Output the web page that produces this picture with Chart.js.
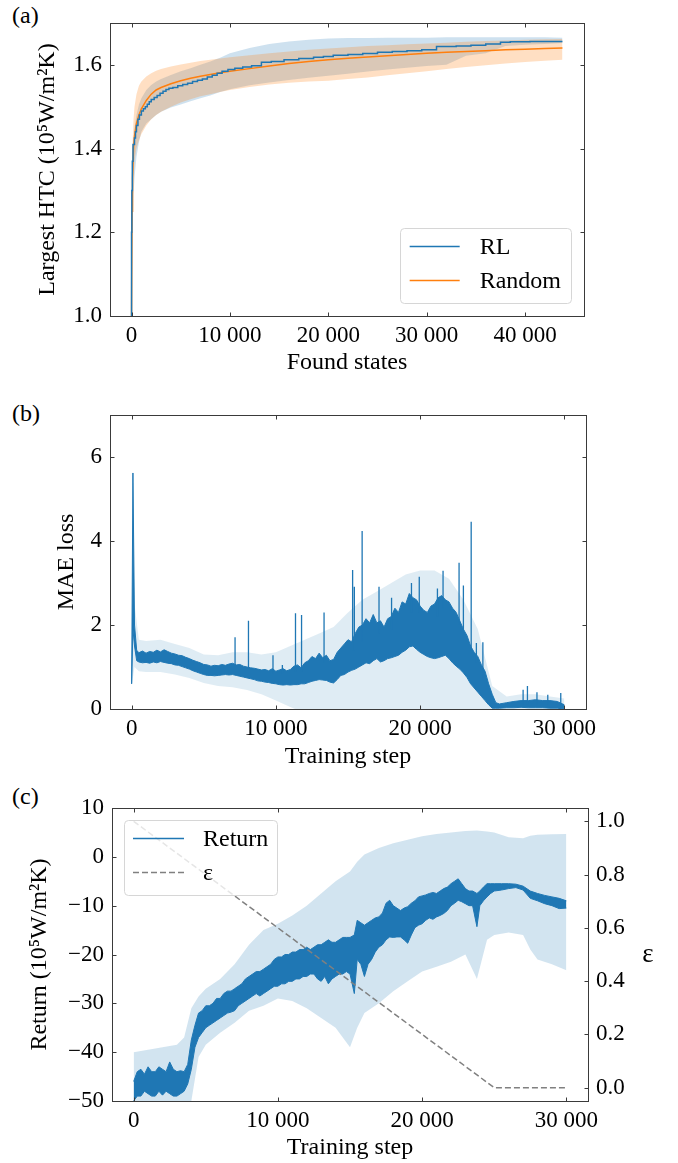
<!DOCTYPE html>
<html><head><meta charset="utf-8">
<script src="https://cdn.jsdelivr.net/npm/chart.js@4.4.1/dist/chart.umd.min.js"></script>
<style>
html,body{margin:0;padding:0;background:#fff;}
body{width:678px;height:1163px;position:relative;overflow:hidden;font-family:'Liberation Serif','Times New Roman',serif;}
.panel{position:absolute;left:0;width:678px;}
.lab{position:absolute;font-size:24px;line-height:24px;color:#000;}
canvas{display:block;}
</style></head><body>
<div class="lab" style="left:12px;top:3px">(a)</div>
<div class="lab" style="left:12px;top:401px">(b)</div>
<div class="lab" style="left:12px;top:784px">(c)</div>
<div class="panel" style="top:0;height:380px"><canvas id="ca" width="678" height="380"></canvas></div>
<div class="panel" style="top:380px;height:400px"><canvas id="cb" width="678" height="400"></canvas></div>
<div class="panel" style="top:780px;height:383px"><canvas id="cc" width="678" height="383"></canvas></div>
<script>
// ---------------- DATA: panel (a) ----------------
const stepA = [0, 50, 100, 200, 300, 500, 750, 1000, 1500, 2000, 2500, 3000, 4000, 5000, 6000, 7000, 8000, 9000, 10000, 12000, 14000, 16000, 18000, 20000, 22000, 24000, 26000, 28000, 30000, 32000, 34000, 36000, 38000, 40000, 42000, 43800];
const randomHTC = [1.000, 1.250, 1.330, 1.400, 1.430, 1.460, 1.480, 1.495, 1.515, 1.530, 1.540, 1.546, 1.555, 1.562, 1.568, 1.573, 1.577, 1.581, 1.585, 1.591, 1.597, 1.603, 1.608, 1.612, 1.616, 1.619, 1.622, 1.625, 1.628, 1.630, 1.632, 1.634, 1.636, 1.637, 1.639, 1.640];
const randomUpper = [1.000, 1.330, 1.410, 1.470, 1.500, 1.530, 1.550, 1.560, 1.572, 1.580, 1.586, 1.590, 1.596, 1.601, 1.605, 1.609, 1.612, 1.615, 1.618, 1.623, 1.628, 1.632, 1.636, 1.639, 1.642, 1.645, 1.647, 1.649, 1.651, 1.653, 1.655, 1.657, 1.658, 1.660, 1.661, 1.662];
const randomLower = [1.000, 1.170, 1.250, 1.330, 1.370, 1.400, 1.420, 1.435, 1.455, 1.470, 1.480, 1.488, 1.500, 1.510, 1.518, 1.525, 1.530, 1.535, 1.540, 1.547, 1.553, 1.557, 1.560, 1.562, 1.566, 1.570, 1.575, 1.580, 1.585, 1.590, 1.595, 1.599, 1.603, 1.607, 1.610, 1.612];
const rlUpper = [1.000, 1.250, 1.330, 1.410, 1.450, 1.480, 1.505, 1.520, 1.540, 1.552, 1.560, 1.566, 1.576, 1.585, 1.592, 1.600, 1.608, 1.617, 1.628, 1.640, 1.650, 1.656, 1.660, 1.663, 1.664, 1.664, 1.665, 1.665, 1.665, 1.666, 1.666, 1.666, 1.666, 1.666, 1.666, 1.665];
const rlLower = [1.000, 1.100, 1.200, 1.290, 1.330, 1.380, 1.415, 1.440, 1.460, 1.470, 1.480, 1.488, 1.498, 1.505, 1.513, 1.520, 1.527, 1.535, 1.542, 1.551, 1.558, 1.564, 1.569, 1.574, 1.579, 1.584, 1.589, 1.593, 1.597, 1.600, 1.622, 1.628, 1.645, 1.648, 1.650, 1.652];
const rlStep = [0, 30, 80, 150, 300, 400, 500, 650, 800, 1000, 1200, 1400, 1600, 1800, 2000, 2300, 2600, 2900, 3200, 3500, 3800, 4200, 4700, 5200, 5700, 6200, 6700, 7200, 7700, 8200, 8700, 9200, 9800, 10500, 11300, 12200, 13200, 14200, 15500, 17000, 18500, 19500, 20500, 22000, 23500, 25000, 26500, 28000, 29500, 31000, 33000, 34500, 36000, 37500, 38500, 40500, 42000, 43800];
const rlHTC = [1.000, 1.200, 1.300, 1.370, 1.410, 1.425, 1.440, 1.455, 1.470, 1.480, 1.490, 1.495, 1.500, 1.506, 1.512, 1.517, 1.522, 1.527, 1.532, 1.537, 1.541, 1.544, 1.546, 1.550, 1.553, 1.556, 1.560, 1.563, 1.566, 1.571, 1.575, 1.580, 1.585, 1.589, 1.592, 1.595, 1.598, 1.606, 1.608, 1.612, 1.615, 1.618, 1.620, 1.623, 1.625, 1.627, 1.630, 1.632, 1.634, 1.636, 1.644, 1.645, 1.647, 1.650, 1.654, 1.655, 1.656, 1.656];
const xTicksA = [0, 10000, 20000, 30000, 40000];
const yTicksA = [1.0, 1.2, 1.4, 1.6];

// ---------------- DATA: panel (b) ----------------
const stepB = [0, 90, 200, 350, 500, 750, 1000, 1250, 1500, 1750,
  2000, 2250, 2500, 2750, 3000, 3250, 3500, 3750, 4000, 4250,
  4500, 4750, 5000, 5250, 5500, 5750, 6000, 6250, 6500, 6750,
  7000, 7250, 7500, 7750, 8000, 8250, 8500, 8750, 9000, 9250,
  9500, 9750, 10000, 10250, 10500, 10750, 11000, 11250, 11500, 11750,
  12000, 12250, 12500, 12750, 13000, 13250, 13500, 13750, 14000, 14250,
  14500, 14750, 15000, 15250, 15500, 15750, 16000, 16250, 16500, 16750,
  17000, 17250, 17500, 17750, 18000, 18250, 18500, 18750, 19000, 19250,
  19500, 19750, 20000, 20250, 20500, 20750, 21000, 21250, 21500, 21750,
  22000, 22250, 22500, 22750, 23000, 23250, 23500, 23750, 24000, 24250,
  24500, 24750, 25000, 25250, 25500, 26000, 26500, 27000, 27500, 28000,
  28500, 29000, 29500, 30000];
const lossLo = [0.60, 1.90, 1.50, 1.15, 1.12, 1.10, 1.11, 1.09, 1.12, 1.10,
  1.13, 1.11, 1.09, 1.08, 1.05, 1.04, 1.01, 0.98, 0.95, 0.91,
  0.88, 0.85, 0.82, 0.80, 0.80, 0.79, 0.80, 0.81, 0.82, 0.81,
  0.82, 0.80, 0.78, 0.76, 0.74, 0.72, 0.70, 0.67, 0.66, 0.64,
  0.63, 0.61, 0.60, 0.58, 0.57, 0.58, 0.57, 0.58, 0.58, 0.60,
  0.60, 0.63, 0.66, 0.68, 0.70, 0.69, 0.68, 0.64, 0.62, 0.70,
  0.80, 0.82, 0.88, 0.92, 0.95, 1.00, 1.05, 1.10, 1.08, 1.15,
  1.20, 1.12, 1.15, 1.20, 1.22, 1.25, 1.28, 1.35, 1.40, 1.48,
  1.50, 1.42, 1.35, 1.30, 1.25, 1.22, 1.20, 1.22, 1.25, 1.28,
  1.20, 1.10, 1.02, 0.95, 0.86, 0.75, 0.60, 0.50, 0.40, 0.30,
  0.20, 0.10, 0.02, 0.02, 0.02, 0.03, 0.03, 0.04, 0.03, 0.03,
  0.03, 0.02, 0.02, 0.00];
const lossHi = [0.60, 5.62, 2.00, 1.40, 1.34, 1.38, 1.33, 1.37, 1.35, 1.40,
  1.36, 1.41, 1.37, 1.33, 1.31, 1.28, 1.27, 1.23, 1.20, 1.16,
  1.13, 1.10, 1.06, 1.05, 1.02, 1.04, 1.03, 1.06, 1.04, 1.07,
  1.09, 1.05, 1.06, 1.02, 1.00, 0.98, 0.97, 0.95, 0.93, 0.94,
  0.91, 0.96, 0.90, 0.93, 0.96, 0.91, 0.94, 1.02, 1.05, 0.98,
  1.10, 1.15, 1.25, 1.20, 1.33, 1.22, 1.28, 1.15, 1.18, 1.35,
  1.45, 1.55, 1.65, 1.60, 1.80, 1.95, 2.00, 2.15, 2.05, 2.25,
  2.05, 2.10, 1.95, 2.15, 2.20, 2.40, 2.30, 2.55, 2.50, 2.75,
  2.65, 2.60, 2.45, 2.35, 2.30, 2.45, 2.50, 2.65, 2.70, 2.60,
  2.55, 2.40, 2.30, 2.10, 1.90, 1.75, 1.50, 1.35, 1.25, 1.05,
  0.90, 0.60, 0.35, 0.15, 0.12, 0.15, 0.18, 0.20, 0.20, 0.22,
  0.20, 0.20, 0.18, 0.10];
const spikeStepB = [7170, 8100, 9800, 10450, 11360, 11780, 13340, 15320, 15440, 15980, 17150, 18020, 19400, 19940, 21200, 21590, 22700, 23000, 23540, 23900, 24350, 27140, 27440, 28100, 28850, 29750];
const spikeBaseB = [1.00, 0.95, 0.85, 0.85, 0.90, 0.90, 1.10, 1.40, 1.40, 1.60, 1.80, 1.90, 2.30, 2.30, 2.20, 2.40, 2.00, 1.80, 1.40, 1.10, 0.70, 0.10, 0.10, 0.10, 0.10, 0.10];
const spikePeakB = [1.71, 2.10, 1.28, 1.05, 2.28, 2.24, 2.30, 3.31, 2.91, 4.24, 2.91, 2.65, 3.00, 3.15, 2.87, 3.29, 3.48, 2.94, 4.46, 1.57, 1.59, 0.46, 0.55, 0.40, 0.34, 0.38];
const bandStepB = [0, 200, 500, 1000, 2000, 3000, 4000, 5000, 6000, 7000, 8000, 9000, 10000, 11000, 12000, 13000, 14000, 15000, 16000, 17000, 18000, 19000, 20000, 21000, 22000, 23000, 24000, 25000, 26000, 27000, 28000, 29000, 30000];
const lossBandLo = [0.55, 1.00, 0.90, 0.88, 0.88, 0.82, 0.74, 0.62, 0.55, 0.52, 0.45, 0.35, 0.20, 0.05, -0.10, -0.15, -0.20, -0.20, -0.20, -0.20, -0.20, -0.20, -0.20, -0.20, -0.20, -0.20, -0.20, -0.10, -0.05, -0.05, -0.05, -0.05, -0.05];
const lossBandHi = [0.70, 2.50, 1.65, 1.62, 1.65, 1.55, 1.45, 1.30, 1.28, 1.35, 1.35, 1.30, 1.35, 1.50, 1.65, 1.80, 1.95, 2.30, 2.60, 2.80, 3.00, 3.20, 3.30, 3.30, 3.10, 2.60, 1.90, 0.55, 0.30, 0.35, 0.35, 0.30, 0.25];
const xTicksB = [0, 10000, 20000, 30000];
const yTicksB = [0, 2, 4, 6];

// ---------------- DATA: panel (c) ----------------
const stepC = [0, 250, 500, 750, 1000, 1250, 1500, 1750, 2000, 2250,
  2500, 2750, 3000, 3250, 3500, 3750, 4000, 4250, 4500, 4750,
  5000, 5250, 5500, 5750, 6000, 6250, 6500, 6750, 7000, 7250,
  7500, 7750, 8000, 8250, 8500, 8750, 9000, 9250, 9500, 9750,
  10000, 10250, 10500, 10750, 11000, 11250, 11500, 11750, 12000, 12250,
  12500, 12750, 13000, 13250, 13500, 13750, 14000, 14250, 14500, 14750,
  15000, 15300, 15500, 15750, 16000, 16250, 16500, 16750, 17000, 17250,
  17500, 17750, 18000, 18250, 18500, 18750, 19000, 19250, 19500, 19750,
  20000, 20250, 20500, 20750, 21000, 21250, 21500, 21750, 22000, 22250,
  22500, 22750, 23000, 23250, 23500, 23800, 24000, 24250, 24500, 24750,
  25000, 25500, 26000, 26500, 27000, 27500, 28000, 28500, 29000, 29500,
  30000];
const returnLo = [-50, -49, -49, -48, -48.5, -49, -49, -48, -48.8, -48,
  -48.5, -49, -49, -48.5, -48, -46.5, -43.5, -39, -37, -36,
  -35, -34.5, -34, -33.5, -33, -32.5, -32, -31.8, -31.5, -30.5,
  -30, -29.5, -29, -28.5, -28, -28.5, -28, -27.5, -27, -26.5,
  -26.5, -26, -26, -25.5, -25.5, -25, -25, -24.5, -24.5, -24,
  -24, -25, -25.5, -24.5, -26, -25, -24.5, -24, -24, -23.5,
  -24, -28, -21, -22, -24.5, -22, -21, -19.5, -18.5, -18,
  -17, -16.4, -16.5, -16.4, -16.4, -17, -17.7, -16, -14.5, -14,
  -13.7, -13, -12.5, -12.8, -12.3, -12, -11.6, -11, -10, -9.5,
  -8.9, -9.2, -9.6, -10, -10, -14.3, -10, -9, -8.2, -7.5,
  -7, -6.8, -6.5, -6.3, -6.8, -8.5, -9, -9.6, -10, -10.6,
  -10.5];
const returnHi = [-46, -44, -43.5, -44.5, -43, -44, -44, -43, -43.5, -44,
  -42, -43.5, -44, -43.8, -44, -42.5, -37.5, -34.5, -32, -31.5,
  -30.5, -30.5, -30, -29, -29, -28, -27.5, -27.5, -27, -26.5,
  -26, -25, -24.5, -24, -23.5, -23.5, -23, -22.5, -22, -21,
  -20.5, -20.5, -20, -20, -19.5, -19.5, -19, -19, -18.5, -19,
  -18.5, -18, -18, -17.5, -17, -17.5, -17.5, -17, -16.5, -16.5,
  -16.5, -16, -13, -13.5, -14, -13.5, -13, -12.5, -12.3, -11.5,
  -9.5, -8.9, -10, -10.5, -11, -10.5, -10.2, -9.5, -9, -8.2,
  -8, -7.8, -7.5, -7.3, -7.5, -7, -6.5, -6.2, -5.5, -5,
  -4.5, -5.5, -6.5, -7, -7, -7.5, -7, -6.2, -5.5, -5.5,
  -5.5, -5.5, -5.5, -5.6, -6, -7, -7.5, -7.9, -8.2, -8.5,
  -9];
const bandStepC = [0, 1000, 2000, 3000, 3500, 4000, 4500, 5000, 6000, 7000, 8000, 9000, 10000, 11000, 12000, 13000, 14000, 15000, 15500, 16000, 17000, 18000, 19000, 20000, 21000, 22000, 23000, 23800, 24500, 25000, 26000, 27000, 27500, 28000, 29000, 30000];
const returnBandLo = [-60, -60, -60, -60, -58, -50, -41, -38.5, -36, -34, -31.5, -30.5, -29, -29.5, -31, -33, -35, -39, -35, -32, -30, -27.5, -25.5, -23.5, -22.5, -21.5, -20, -25, -17, -16, -15.5, -16, -19, -21, -22, -23.2];
const returnBandHi = [-40, -39.5, -39, -38.5, -37, -31, -28.6, -27, -25, -22, -18, -15, -13.7, -12, -10, -7.5, -5, -3, -1, 0.5, 1.8, 2.8, 3.5, 4.2, 4.7, 5.0, 5.3, 5.4, 5.2, 5.0, 4.0, 3.8, 4.3, 4.5, 4.6, 4.7];
const epsStep = [0, 25000, 30000];
const epsValue = [1.0, 0.0, 0.0];
const xTicksC = [0, 10000, 20000, 30000];
const yTicksC = [-50, -40, -30, -20, -10, 0, 10];
const epsTicks = [0.0, 0.2, 0.4, 0.6, 0.8, 1.0];

// ---------------- helpers ----------------
const FONT = "'Liberation Serif','Times New Roman',serif";
const BLUE = '#1f77b4', ORANGE = '#ff7f0e', GREY = '#808080';
const pts = (xs, ys) => xs.map((x, i) => ({x, y: ys[i]}));
const spikes = (xs, b, p) => xs.flatMap((x, i) => [{x, y: b[i]}, {x, y: p[i]}, {x, y: null}]);
const fmtX = v => v === 0 ? '0' : String(v).replace(/\B(?=(\d{3})+(?!\d))/g, ' ');
const fmtSigned = v => v < 0 ? '\u2212' + Math.abs(v) : String(v);

const framePlugin = {
  id: 'frameTicks',
  afterDatasetsDraw(chart) {
    const {ctx, chartArea: a, scales} = chart;
    ctx.save();
    ctx.strokeStyle = '#3a3a3a'; ctx.lineWidth = 1;
    const L = 4;
    const seg = (x1, y1, x2, y2) => { ctx.beginPath(); ctx.moveTo(x1, y1); ctx.lineTo(x2, y2); ctx.stroke(); };
    const l = Math.round(a.left) + 0.5, r = Math.round(a.right) + 0.5, t = Math.round(a.top) + 0.5, b = Math.round(a.bottom) + 0.5;
    scales.x.ticks.forEach(tk => { const p = Math.round(scales.x.getPixelForValue(tk.value)) + 0.5; seg(p, b, p, b - L); seg(p, t, p, t + L); });
    scales.y.ticks.forEach(tk => { const p = Math.round(scales.y.getPixelForValue(tk.value)) + 0.5; seg(l, p, l + L, p); if (!scales.y1) seg(r, p, r - L, p); });
    if (scales.y1) scales.y1.ticks.forEach(tk => { const p = Math.round(scales.y1.getPixelForValue(tk.value)) + 0.5; seg(r, p, r - L, p); });
    ctx.strokeRect(l, t, r - l, b - t);
    ctx.restore();
  }
};

function legendPlugin(cfg) {
  return {
    id: 'boxLegend',
    afterDatasetsDraw(chart) {
      const {ctx, chartArea: a} = chart;
      ctx.save();
      ctx.font = cfg.fontSize + 'px ' + FONT;
      const tw = Math.max(...cfg.items.map(it => ctx.measureText(it.text).width));
      const w = cfg.padL + cfg.sample + cfg.gap + tw + cfg.padR;
      const h = cfg.height;
      const left = cfg.corner === 'br' ? a.right - cfg.margin - w : a.left + cfg.margin;
      const top = cfg.corner === 'br' ? a.bottom - cfg.margin - h : a.top + cfg.margin;
      ctx.fillStyle = 'rgba(255,255,255,0.8)';
      ctx.strokeStyle = '#d6d6d6'; ctx.lineWidth = 1;
      ctx.beginPath(); ctx.roundRect(Math.round(left) + 0.5, Math.round(top) + 0.5, Math.round(w), h, 4); ctx.fill(); ctx.stroke();
      cfg.items.forEach((it, i) => {
        const cy = Math.round(top + cfg.firstRow + cfg.rowH * i) + 0.5;
        ctx.strokeStyle = it.color; ctx.lineWidth = 1.5; ctx.setLineDash(it.dash || []);
        ctx.beginPath(); ctx.moveTo(left + cfg.padL, cy); ctx.lineTo(left + cfg.padL + cfg.sample, cy); ctx.stroke();
        ctx.setLineDash([]);
        ctx.fillStyle = '#000'; ctx.textBaseline = 'middle'; ctx.textAlign = 'left';
        ctx.fillText(it.text, left + cfg.padL + cfg.sample + cfg.gap, cy + 1);
      });
      ctx.restore();
    }
  };
}

// upright title for the right-hand axis (matplotlib draws ε unrotated)
const rightTitlePlugin = {
  id: 'rightTitle',
  afterDraw(chart) {
    const s = chart.scales.y1;
    if (!s) return;
    const {ctx} = chart;
    ctx.save();
    ctx.font = '27px ' + FONT;
    ctx.fillStyle = '#000'; ctx.textAlign = 'center'; ctx.textBaseline = 'middle';
    ctx.fillText('\u03B5', s.right - 30, (s.top + s.bottom) / 2);
    ctx.restore();
  }
};

function xScale(o) {
  return {
    type: 'linear', min: o.min, max: o.max,
    afterBuildTicks: s => { s.ticks = o.ticks.map(v => ({value: v})); },
    afterFit: s => { s.height = o.h; },
    grid: {display: false, drawTicks: false}, border: {display: false},
    ticks: {font: {family: FONT, size: 23}, color: '#000', padding: o.tickPad, maxRotation: 0, autoSkip: false, callback: fmtX},
    title: {display: true, text: o.title, font: {family: FONT, size: 24}, color: '#000', padding: {top: 0, bottom: o.titlePad}}
  };
}
function yScale(o) {
  return {
    type: 'linear', position: o.position || 'left', min: o.min, max: o.max,
    afterBuildTicks: s => { s.ticks = o.ticks.map(v => ({value: v})); },
    afterFit: s => { s.width = o.w; },
    grid: {display: false, drawTicks: false}, border: {display: false},
    ticks: {font: {family: FONT, size: 23}, color: '#000', padding: 8, autoSkip: false, callback: o.fmt},
    title: {display: !!o.title, text: o.title || '', font: {family: FONT, size: 24}, color: '#000', padding: {top: o.titlePad || 0, bottom: 0}}
  };
}
const lineDs = (data, color, extra) => Object.assign({data, borderColor: color, backgroundColor: color, borderWidth: 1.5, pointRadius: 0, tension: 0, fill: false}, extra || {});
const bandDs = (data, fillColor, fillTarget) => ({data, borderColor: 'rgba(0,0,0,0)', borderWidth: 0, pointRadius: 0, tension: 0, backgroundColor: fillColor, fill: fillTarget});

const common = {responsive: false, animation: false, events: []};
const charts = [];

// ---------------- chart (a) ----------------
charts.push(new Chart(document.getElementById('ca'), {
  type: 'line',
  data: {datasets: [
    lineDs(pts(rlStep, rlHTC), BLUE, {stepped: 'after'}),
    lineDs(pts(stepA, randomHTC), ORANGE),
    bandDs(pts(stepA, randomLower), 'rgba(255,127,14,0.25)', false),
    bandDs(pts(stepA, randomUpper), 'rgba(255,127,14,0.25)', '-1'),
    bandDs(pts(stepA, rlLower), 'rgba(31,119,180,0.22)', false),
    bandDs(pts(stepA, rlUpper), 'rgba(31,119,180,0.22)', '-1')
  ]},
  options: Object.assign({}, common, {
    layout: {padding: {left: 0, right: 94, top: 23, bottom: 0}},
    plugins: {legend: {display: false}, tooltip: {enabled: false}},
    scales: {
      x: xScale({min: -2190, max: 45990, ticks: xTicksA, h: 64, tickPad: 6, title: 'Found states', titlePad: 3}),
      y: yScale({min: 1.0, max: 1.70, ticks: yTicksA, w: 110, fmt: v => v.toFixed(1), title: 'Largest HTC (10\u2075W/m\u00B2K)', titlePad: 33})
    }
  }),
  plugins: [framePlugin, legendPlugin({corner: 'br', margin: 13, fontSize: 24, padL: 10, sample: 50, gap: 20, padR: 10, height: 75, firstRow: 18, rowH: 34,
    items: [{text: 'RL', color: BLUE}, {text: 'Random', color: ORANGE}]})]
}));

// ---------------- chart (b) ----------------
charts.push(new Chart(document.getElementById('cb'), {
  type: 'line',
  data: {datasets: [
    lineDs(spikes(spikeStepB, spikeBaseB, spikePeakB), BLUE, {borderWidth: 1.3, spanGaps: false}),
    lineDs(pts(stepB, lossLo), BLUE, {borderWidth: 1}),
    lineDs(pts(stepB, lossHi), BLUE, {borderWidth: 1, fill: '-1'}),
    bandDs(pts(bandStepB, lossBandLo), 'rgba(31,119,180,0.14)', false),
    bandDs(pts(bandStepB, lossBandHi), 'rgba(31,119,180,0.14)', '-1')
  ]},
  options: Object.assign({}, common, {
    layout: {padding: {left: 0, right: 92, top: 35, bottom: 0}},
    plugins: {legend: {display: false}, tooltip: {enabled: false}},
    scales: {
      x: xScale({min: -1500, max: 31500, ticks: xTicksB, h: 71, tickPad: 6, title: 'Training step', titlePad: 9}),
      y: yScale({min: 0, max: 7, ticks: yTicksB, w: 110, fmt: v => String(v), title: 'MAE loss', titlePad: 52})
    }
  }),
  plugins: [framePlugin]
}));

// ---------------- chart (c) ----------------
charts.push(new Chart(document.getElementById('cc'), {
  type: 'line',
  data: {datasets: [
    lineDs(pts(epsStep, epsValue), GREY, {yAxisID: 'y1', borderDash: [6, 3]}),
    lineDs(pts(stepC, returnLo), BLUE, {borderWidth: 1}),
    lineDs(pts(stepC, returnHi), BLUE, {borderWidth: 1, fill: '-1'}),
    bandDs(pts(bandStepC, returnBandLo), 'rgba(31,119,180,0.2)', false),
    bandDs(pts(bandStepC, returnBandHi), 'rgba(31,119,180,0.2)', '-1')
  ]},
  options: Object.assign({}, common, {
    layout: {padding: {left: 0, right: 0, top: 28, bottom: 0}},
    plugins: {legend: {display: false}, tooltip: {enabled: false}},
    scales: {
      x: xScale({min: -1500, max: 31500, ticks: xTicksC, h: 62, tickPad: 6, title: 'Training step', titlePad: 1}),
      y: yScale({min: -50, max: 10, ticks: yTicksC, w: 112, fmt: fmtSigned, title: 'Return (10\u2075W/m\u00B2K)', titlePad: 25}),
      y1: yScale({position: 'right', min: -0.05, max: 1.05, ticks: epsTicks, w: 90, fmt: v => v.toFixed(1)})
    }
  }),
  plugins: [framePlugin, rightTitlePlugin, legendPlugin({corner: 'tl', margin: 12, fontSize: 24, padL: 9, sample: 51, gap: 19, padR: 9, height: 75, firstRow: 18, rowH: 34,
    items: [{text: 'Return', color: BLUE}, {text: '\u03B5', color: GREY, dash: [6, 3]}]})]
}));

if (document.fonts && document.fonts.load) {
  document.fonts.load('24px "Liberation Serif"').then(() => charts.forEach(c => c.update())).catch(() => {});
}
</script>
</body></html>
